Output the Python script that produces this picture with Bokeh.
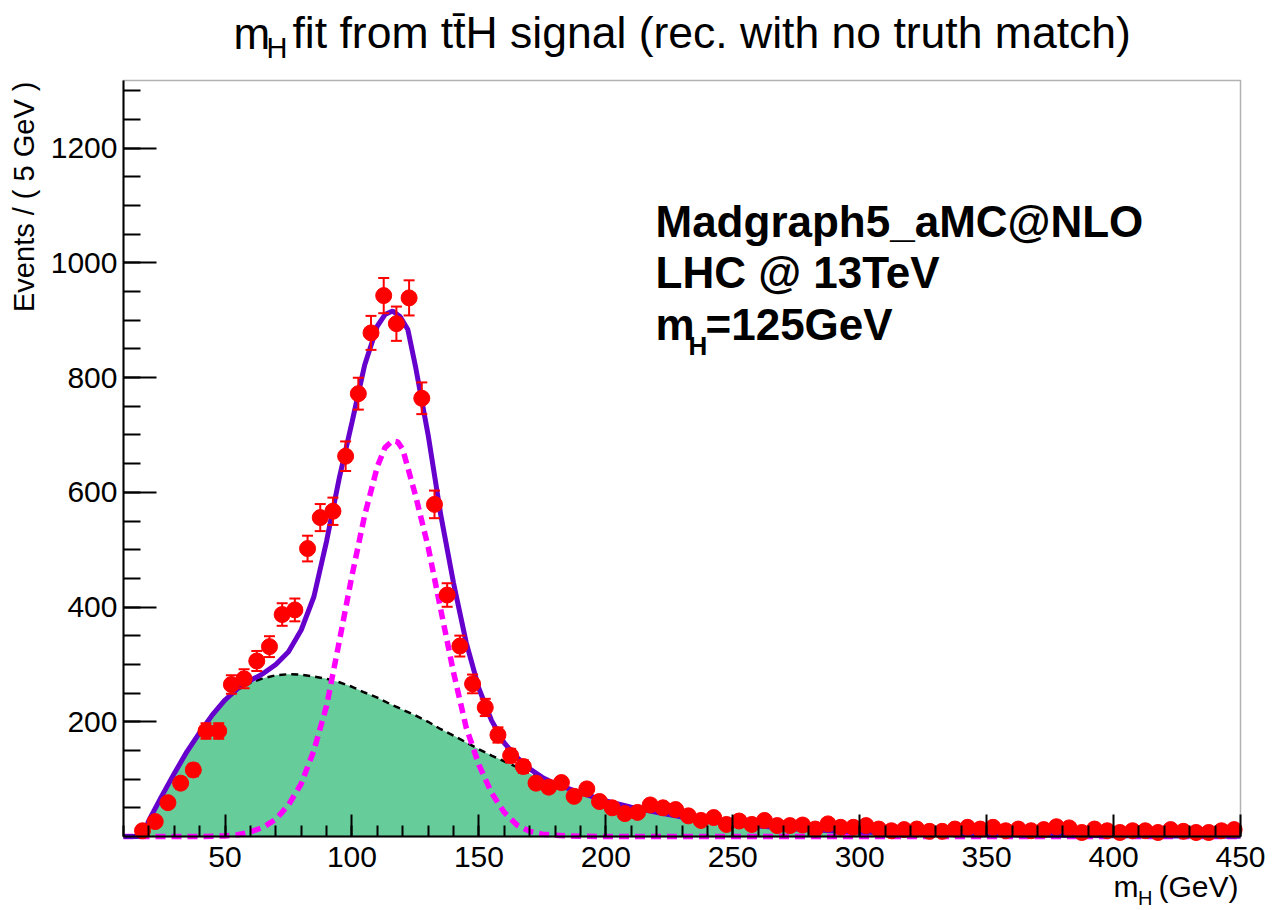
import numpy as np
from bokeh.plotting import figure
from bokeh.models import (ColumnDataSource, FixedTicker, Label, Whisker, TeeHead,
                          Range1d, BoxAnnotation)
from bokeh.embed import file_html
from bokeh.resources import INLINE

# ---------------- data ----------------
bin_width = 5.0
bin_first_center = 17.5
counts = [10, 26, 59, 93, 116, 184, 184, 265, 275, 306,
          331, 387, 395, 502, 556, 567, 663, 772, 878, 943,
          894, 939, 764, 579, 421, 332, 266, 225, 177, 141,
          122, 93, 86, 94, 70, 83, 61, 50, 40, 42,
          55, 50, 47, 36, 28, 33, 21, 27, 21, 28,
          19, 19, 20, 13, 22, 16, 16, 19, 13, 10,
          12, 13, 9, 9, 13, 16, 13, 16, 10, 13,
          10, 12, 17, 15, 7, 13, 10, 7, 10, 10,
          7, 12, 9, 7, 7, 10, 12]
bin_centers = [bin_first_center + bin_width * i for i in range(len(counts))]

# total fit (solid violet)
total_x = [10, 15, 17.5, 20, 25, 30, 35, 40, 45, 50, 55, 60, 65, 70, 75, 80, 85,
           90, 95, 100, 105, 110, 113, 116, 119, 122, 125, 130, 135, 140, 145,
           150, 155, 160, 165, 170, 175, 180, 190, 200, 210, 220, 230, 240, 250,
           275, 300, 325, 350, 375, 400, 425, 450]
total_y = [0, 0, 0, 28, 70, 110, 148, 181, 212, 238, 258, 272, 284, 300, 322, 360, 418,
           515, 625, 722, 822, 890, 910, 916, 906, 884, 820, 700, 560, 442, 338,
           258, 202, 163, 138, 118, 103, 92, 76, 62, 51, 42, 34, 28, 22,
           13, 8, 5, 3, 2, 1.3, 0.8, 0.5]

# background component (black dashed, green filled)
bkg_x = [10, 15, 17.5, 20, 25, 30, 35, 40, 45, 50, 55, 60, 65, 70, 75, 80, 85,
         90, 95, 100, 105, 110, 115, 120, 125, 130, 135, 140, 145, 150, 155,
         160, 165, 170, 175, 180, 190, 200, 210, 220, 230, 240, 250, 275, 300,
         325, 350, 375, 400, 425, 450]
bkg_y = [0, 0, 0, 28, 70, 110, 148, 181, 212, 238, 256, 268, 276, 281, 283, 282, 279,
         275, 269, 261, 251, 242, 231, 221, 211, 200, 187, 176, 164, 152, 141,
         131, 121, 110, 100, 91, 76, 62, 51, 42, 34, 28, 22, 13, 8,
         5, 3, 2, 1.3, 0.8, 0.5]

# signal component (magenta dashed)
sig_x = [10, 40, 50, 55, 60, 65, 70, 75, 80, 85, 90, 95, 100, 105, 110, 113, 116,
         118, 120, 125, 130, 135, 140, 145, 150, 155, 160, 165, 170, 175, 180,
         190, 200, 450]
sig_y = [0, 0, 1, 3, 8, 16, 30, 55, 92, 150, 228, 340, 455, 560, 645, 678, 690,
         688, 675, 595, 505, 395, 286, 190, 125, 76, 42, 20, 9, 4, 2,
         0.5, 0, 0]

x_major = [50, 100, 150, 200, 250, 300, 350, 400, 450]
y_major = [200, 400, 600, 800, 1000, 1200]

# ---------------- layout ----------------
W, H = 1278, 910
FL, FR, FT, FB = 123, 1240, 80, 836          # ROOT frame in canvas pixels
X0, X1, Y0, Y1 = 10, 450, 0, 1318            # axis ranges


def dx(px):
    return X0 + (px - FL) * (X1 - X0) / (FR - FL)


def dy(py):
    return Y0 + (FB - py) * (Y1 - Y0) / (FB - FT)


p = figure(width=W, height=H,
           x_range=Range1d(dx(0), dx(W)), y_range=Range1d(dy(H), dy(0)),
           output_backend="svg", toolbar_location=None, min_border=0)
p.title.text = ""
p.title.visible = False
p.background_fill_color = "white"
p.border_fill_color = "white"
p.outline_line_color = None
p.xgrid.grid_line_color = None
p.ygrid.grid_line_color = None

FONT = "Liberation Sans"

p.xaxis.fixed_location = Y0
p.yaxis.fixed_location = X0
p.xaxis.bounds = (X0, X1)
p.yaxis.bounds = (Y0, Y1)
p.xaxis.ticker = FixedTicker(ticks=x_major, minor_ticks=list(range(10, 451, 10)))
p.yaxis.ticker = FixedTicker(ticks=y_major, minor_ticks=list(range(50, 1301, 50)))
for ax in (p.xaxis[0], p.yaxis[0]):
    ax.axis_line_width = 2
    ax.axis_line_color = "black"
    ax.major_tick_line_width = 2
    ax.minor_tick_line_width = 2
    ax.major_tick_out = 0
    ax.minor_tick_out = 0
    ax.major_label_text_font = FONT
    ax.major_label_text_font_size = "30px"
    ax.major_label_text_color = "black"
p.xaxis.major_tick_in = 22
p.xaxis.minor_tick_in = 11
p.xaxis.major_label_standoff = 10
p.yaxis.major_tick_in = 33
p.yaxis.minor_tick_in = 17
p.yaxis.major_label_standoff = 6

# ROOT frame box
p.add_layout(BoxAnnotation(left=X0, right=X1, bottom=Y0, top=Y1,
                           fill_alpha=0, line_color="black", line_width=1.5))

# ---------------- curves ----------------
p.varea(x=bkg_x, y1=[0] * len(bkg_x), y2=bkg_y, color="#66CC99")
p.line(bkg_x, bkg_y, line_color="black", line_width=2.5, line_dash="7 5")
p.line(sig_x, sig_y, line_color="#FF00FF", line_width=5.5, line_dash="10 6")
p.line(total_x, total_y, line_color="#6600CC", line_width=5)

# ---------------- data points ----------------
err = np.sqrt(np.array(counts, dtype=float))
src = ColumnDataSource(data=dict(x=bin_centers, y=counts,
                                 lower=np.array(counts) - err,
                                 upper=np.array(counts) + err))
wh = Whisker(base="x", upper="upper", lower="lower", source=src,
             line_color="red", line_width=2, level="glyph",
             upper_head=TeeHead(size=11, line_color="red", line_width=2),
             lower_head=TeeHead(size=11, line_color="red", line_width=2))
p.add_layout(wh)
p.scatter("x", "y", source=src, size=16, fill_color="red", line_color="red")

# ---------------- texts ----------------
BASE_SHIFT = 0.375  # empirical baseline correction (fraction of font size)


def lab(px, py, text, size, style="normal", align="left", angle=0.0):
    if angle == 0.0:
        ax_, ay_ = px, py - BASE_SHIFT * size
    else:
        ax_, ay_ = px - BASE_SHIFT * size, py
    p.add_layout(Label(x=dx(ax_), y=dy(ay_), text=text, text_font=FONT,
                       text_font_size=f"{size}px", text_font_style=style,
                       text_align=align, text_baseline="alphabetic",
                       text_color="black", angle=angle))


# title
lab(233, 49, "m", 44)
lab(266, 58, "H", 29)
lab(292, 49, "fit from tt\u0304H signal (rec. with no truth match)", 44.5)

# y axis title
lab(34, 81, "Events / ( 5 GeV )", 29, align="right", angle=np.pi / 2)

# x axis title
lab(1238, 897, "(GeV)", 30, align="right")
lab(1152, 905, "H", 20, align="right")
lab(1138, 897, "m", 30, align="right")

# info block
lab(655, 237, "Madgraph5_aMC@NLO", 44, style="bold")
lab(655, 288, "LHC @ 13TeV", 44, style="bold")
lab(655, 340, "m", 44, style="bold")
lab(688, 355, "H", 26, style="bold")
lab(705, 340, "=125GeV", 44, style="bold")

open("out.html", "w").write(file_html(p, INLINE))
